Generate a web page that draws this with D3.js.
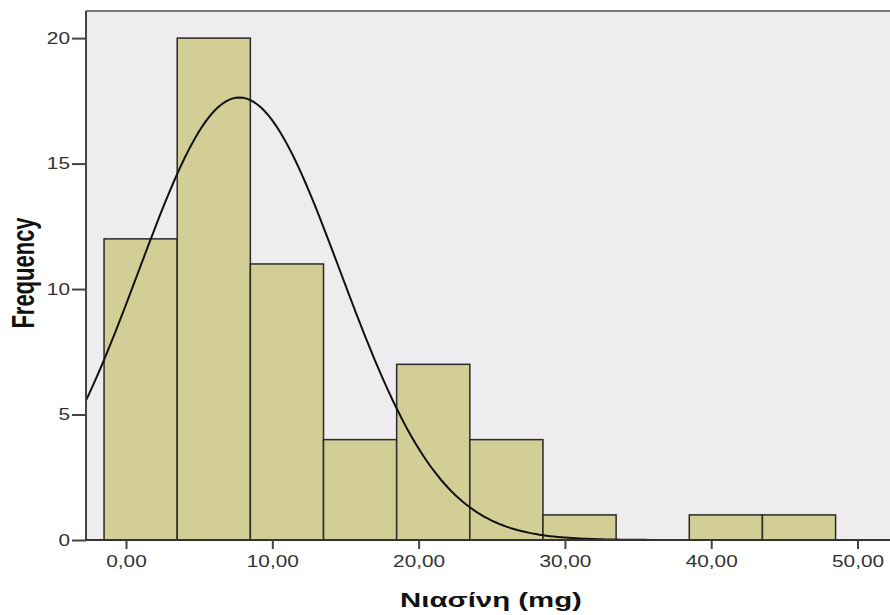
<!DOCTYPE html>
<html>
<head>
<meta charset="utf-8">
<script src="https://cdn.jsdelivr.net/npm/d3@7"></script>
<style>
    body { margin: 0; background: #fff; }
    svg { display: block; }
    .tick text { font-family: "Liberation Sans", Arial, sans-serif; fill: #333; }
</style>
</head>
<body>
<div id="chart"></div>
<script>
// histogram bins (lower edge, width 5)
var binStarts = [-1.5, 3.5, 8.5, 13.5, 18.5, 23.5, 28.5, 33.5, 38.5, 43.5];
var binWidth = 5;
var counts = [12, 20, 11, 4, 7, 4, 1, 0, 1, 1];

// normal curve parameters
var mean = 7.75;
var stdDev = 6.9;
var n = 61;

var yTicks = [0, 5, 10, 15, 20];
var xTicks = [0, 10, 20, 30, 40, 50];

var width = 890, height = 615;
var plot = {left: 86, right: 890, top: 11, bottom: 540};

var svg = d3.select("#chart").append("svg")
    .attr("width", width)
    .attr("height", height);

var x = d3.scaleLinear().domain([-2.734, 52.22]).range([plot.left, plot.right]);
var y = d3.scaleLinear().domain([0, 21.08]).range([plot.bottom, plot.top]);

// plot background
svg.append("rect")
    .attr("x", plot.left)
    .attr("y", plot.top)
    .attr("width", plot.right - plot.left)
    .attr("height", plot.bottom - plot.top)
    .attr("fill", "#eeecee");

// top border
svg.append("line")
    .attr("x1", plot.left).attr("x2", plot.right)
    .attr("y1", plot.top).attr("y2", plot.top)
    .attr("stroke", "#777").attr("stroke-width", 2);

svg.append("clipPath").attr("id", "clip")
    .append("rect")
    .attr("x", plot.left).attr("y", plot.top)
    .attr("width", plot.right - plot.left)
    .attr("height", plot.bottom - plot.top);

// bars
svg.append("g").selectAll("rect")
    .data(counts.map(function(c, i) { return {start: binStarts[i], count: c}; })
        .filter(function(d) { return d.count > 0; }))
    .enter().append("rect")
    .attr("x", function(d) { return x(d.start); })
    .attr("y", function(d) { return y(d.count); })
    .attr("width", function(d) { return x(d.start + binWidth) - x(d.start); })
    .attr("height", function(d) { return y(0) - y(d.count); })
    .attr("fill", "#d2ce96")
    .attr("stroke", "#2a2a2a")
    .attr("stroke-width", 1.5);

// normal curve
var curvePts = d3.range(-3, 52.5, 0.25).map(function(v) {
    var z = (v - mean) / stdDev;
    return [v, n * binWidth / (stdDev * Math.sqrt(2 * Math.PI)) * Math.exp(-0.5 * z * z)];
});
svg.append("path")
    .datum(curvePts)
    .attr("clip-path", "url(#clip)")
    .attr("fill", "none")
    .attr("stroke", "#111")
    .attr("stroke-width", 2)
    .attr("d", d3.line()
        .x(function(d) { return x(d[0]); })
        .y(function(d) { return y(d[1]); }));

// axes
var yAxis = svg.append("g")
    .attr("transform", "translate(" + plot.left + ",0)")
    .call(d3.axisLeft(y).tickValues(yTicks).tickSize(14).tickSizeOuter(0)
        .tickFormat(function(d) { return d; }));
yAxis.select(".domain").attr("stroke", "#444").attr("stroke-width", 2)
    .attr("d", "M0," + plot.top + "V" + plot.bottom);
yAxis.selectAll(".tick line").attr("stroke", "#444").attr("stroke-width", 2);
yAxis.selectAll(".tick text")
    .attr("x", 0)
    .attr("font-size", 16)
    .attr("transform", "translate(-16,0) scale(1.3,1)");

var xAxis = svg.append("g")
    .attr("transform", "translate(0," + plot.bottom + ")")
    .call(d3.axisBottom(x).tickValues(xTicks).tickSize(9).tickSizeOuter(0)
        .tickFormat(function(d) { return d3.format(".2f")(d).replace(".", ","); }));
xAxis.select(".domain").attr("stroke", "#333").attr("stroke-width", 2)
    .attr("d", "M" + plot.left + ",0H" + plot.right);
xAxis.selectAll(".tick line").attr("stroke", "#444").attr("stroke-width", 2);
xAxis.selectAll(".tick text")
    .attr("y", 0).attr("dy", 0)
    .attr("font-size", 16)
    .attr("transform", "translate(0,27) scale(1.3,1)");

// axis titles
svg.append("text")
    .attr("transform", "translate(491,607) scale(1.4,1)")
    .attr("text-anchor", "middle")
    .attr("font-family", "'Liberation Sans', Arial, sans-serif")
    .attr("font-weight", "bold")
    .attr("font-size", 21)
    .attr("fill", "#111")
    .text("Νιασίνη (mg)");

svg.append("text")
    .attr("transform", "translate(34,273) scale(1.4,1) rotate(-90)")
    .attr("text-anchor", "middle")
    .attr("font-family", "'Liberation Sans', Arial, sans-serif")
    .attr("font-weight", "bold")
    .attr("font-size", 22)
    .attr("fill", "#111")
    .text("Frequency");
</script>
</body>
</html>
